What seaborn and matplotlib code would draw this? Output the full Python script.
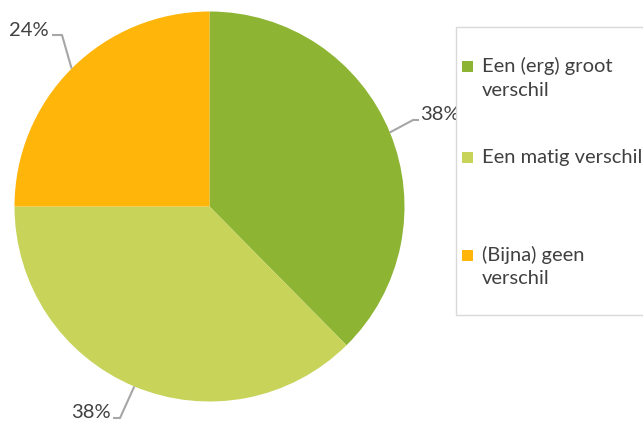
import numpy as np
import seaborn as sns
import matplotlib.pyplot as plt
from matplotlib.patches import Rectangle

sns.set_theme(style="white")
plt.rcParams['font.family'] = ['Lato', 'DejaVu Sans']

# data
categories = ["Een (erg) groot\nverschil", "Een matig verschil", "(Bijna) geen\nverschil"]
shares = [0.376, 0.374, 0.25]
pct_labels = ["38%", "38%", "24%"]
colors = ["#8DB432", "#C8D35A", "#FFB50A"]

W, H = 643, 421
CX, CY, R = 209.5, 206.5, 195.0

fig = plt.figure(figsize=(W / 100, H / 100), dpi=100)
ax = fig.add_axes([(CX - R) / W, (H - CY - R) / H, 2 * R / W, 2 * R / H])

wedges, _ = ax.pie(shares, colors=colors, startangle=90, counterclock=False,
                   radius=1, wedgeprops=dict(linewidth=0))
ax.set_xlim(-1, 1)
ax.set_ylim(-1, 1)
ax.axis("off")


def px(x, y):
    # pixel position -> data coords of the pie axes
    return (x - CX) / R, (CY - y) / R


# label layout: elbow, line end, text anchor, alignment
layout = [
    ((413, 120), (419, 120), (420, 115), "left"),
    ((120, 418), (113, 418), (111, 413), "right"),
    ((62, 35), (52, 35), (49, 30), "right"),
]
for w, lab, (elb, end, txt, ha) in zip(wedges, pct_labels, layout):
    mid = np.deg2rad((w.theta1 + w.theta2) / 2)
    ex, ey = np.cos(mid), np.sin(mid)
    bx, by = px(*elb)
    lx, ly = px(*end)
    ax.plot([ex, bx, lx], [ey, by, ly], color="#A6A6A6", lw=1.5,
            clip_on=False, solid_capstyle="butt")
    tx, ty = px(*txt)
    ax.text(tx, ty, lab, ha=ha, va="center", fontsize=14.5, color="#404040",
            clip_on=False)

# legend box drawn by hand to mimic the spread-out spacing
fig.patches.append(Rectangle((456 / W, 1 - 315 / H), 200 / W, 288 / H,
                             transform=fig.transFigure, facecolor="white",
                             edgecolor="#D9D9D9", lw=1))
entry_y = [66, 157, 255]
for cat, col, y in zip(categories, colors, entry_y):
    fig.patches.append(Rectangle((462 / W, 1 - (y + 5.5) / H), 11 / W, 11 / H,
                                 transform=fig.transFigure, facecolor=col,
                                 edgecolor="none"))
    for i, line in enumerate(cat.split("\n")):
        fig.text(482 / W, 1 - (y + 24 * i) / H, line, ha="left", va="center",
                 fontsize=14.5, color="#404040")

fig.savefig("out.png", dpi=100)
